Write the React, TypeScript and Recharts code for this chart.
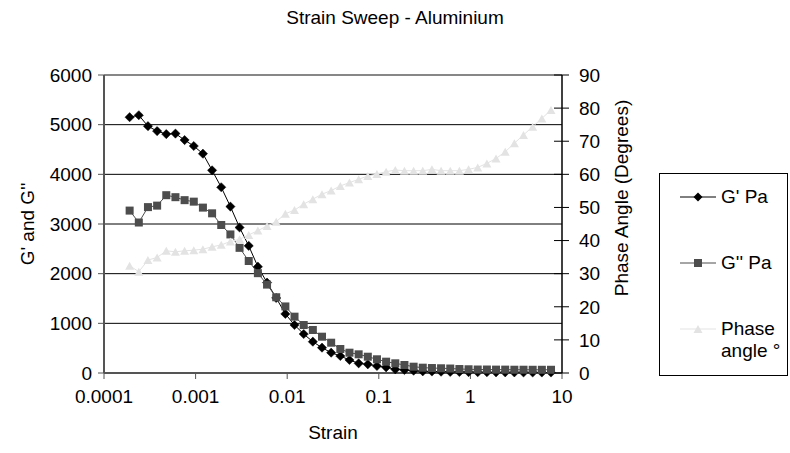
import React from "react";
import {
  ComposedChart,
  Line,
  XAxis,
  YAxis,
  CartesianGrid,
  ReferenceLine,
} from "recharts";

const strain = [
  0.0001905, 0.0002399, 0.000302, 0.0003802, 0.0004786, 0.0006026, 0.0007586, 0.000955,
  0.001202, 0.001514, 0.001905, 0.002399, 0.00302, 0.003802, 0.004786, 0.006026, 0.007586, 0.00955,
  0.01202, 0.01514, 0.01905, 0.02399, 0.0302, 0.03802, 0.04786, 0.06026, 0.07586, 0.0955,
  0.1202, 0.1514, 0.1905, 0.2399, 0.302, 0.3802, 0.4786, 0.6026, 0.7586, 0.955,
  1.202, 1.514, 1.905, 2.399, 3.02, 3.802, 4.786, 6.026, 7.586,
];

const gPrime = [
  5150, 5190, 4970, 4870, 4810, 4820, 4690, 4570,
  4415, 4080, 3740, 3350, 2930, 2560, 2140, 1820, 1510, 1190,
  966, 785, 630, 510, 409, 342, 262, 195, 175, 141,
  115, 74, 60, 46, 34, 30, 26, 22, 20, 18,
  16, 15, 14, 13, 12, 11, 10, 10, 10,
];

const gDoublePrime = [
  3270, 3030, 3340, 3370, 3580, 3540, 3480, 3450,
  3330, 3215, 2980, 2790, 2520, 2255, 2010, 1780, 1525, 1340,
  1134, 966, 866, 731, 610, 483, 409, 376, 328, 276,
  228, 195, 161, 127, 107, 100, 95, 90, 80, 75,
  70, 70, 68, 68, 66, 66, 65, 65, 65,
];

const phaseAngle = [
  32.4, 30.6, 34.1, 34.9, 36.9, 36.6, 36.9, 37.1,
  37.4, 38.1, 38.7, 39.7, 40.4, 41.7, 43.0, 44.4, 45.7, 48.1,
  49.2, 51.0, 52.5, 54.0, 55.1, 56.5, 57.5, 58.5, 59.5, 60.1,
  60.8, 61.3, 61.1, 61.1, 61.1, 61.5, 61.1, 61.1, 61.1, 61.5,
  62.1, 63.3, 64.8, 66.8, 69.4, 71.9, 74.4, 76.9, 79.4,
];

const xTicks = [0.0001, 0.001, 0.01, 0.1, 1, 10];
const xTickLabels = ["0.0001", "0.001", "0.01", "0.1", "1", "10"];
const leftTicks = [0, 1000, 2000, 3000, 4000, 5000, 6000];
const rightTicks = [0, 10, 20, 30, 40, 50, 60, 70, 80, 90];

const title = "Strain Sweep - Aluminium";
const xTitle = "Strain";
const leftTitle = "G' and G''";
const rightTitle = "Phase Angle (Degrees)";
const seriesNames = ["G' Pa", "G'' Pa", "Phase angle °"];

const data = strain.map((s, i) => ({
  strain: s,
  gp: gPrime[i],
  gpp: gDoublePrime[i],
  phase: phaseAngle[i],
}));

const FONT = "'Liberation Sans', Arial, sans-serif";
const FS = 19;

const C_GP = "#000000";
const C_GPP = "#4d4d4d";
const C_PH = "#e3e3e3";

const Diamond = (props: any) => {
  const { cx, cy } = props;
  if (cx == null || cy == null) return null;
  const r = 4.6;
  return (
    <polygon
      points={`${cx},${cy - r} ${cx + r},${cy} ${cx},${cy + r} ${cx - r},${cy}`}
      fill={C_GP}
      stroke={C_GP}
      strokeWidth={0.5}
    />
  );
};

const Square = (props: any) => {
  const { cx, cy } = props;
  if (cx == null || cy == null) return null;
  const s = 8;
  return <rect x={cx - s / 2} y={cy - s / 2} width={s} height={s} fill={C_GPP} />;
};

const Triangle = (props: any) => {
  const { cx, cy } = props;
  if (cx == null || cy == null) return null;
  const w = 9;
  const h = 8;
  return (
    <polygon
      points={`${cx},${cy - h / 2} ${cx + w / 2},${cy + h / 2} ${cx - w / 2},${cy + h / 2}`}
      fill={C_PH}
    />
  );
};

const RightTick = (props: any) => {
  const { x, y, payload } = props;
  return (
    <g>
      <line x1={x - 25} x2={x - 10} y1={y} y2={y} stroke="#000" strokeWidth={1} />
      <text x={x} y={y} dy="0.355em" textAnchor="start" fontFamily={FONT} fontSize={FS} fill="#000">
        {payload.value}
      </text>
    </g>
  );
};

const LegendBox = () => {
  const item = (kind: string, label: React.ReactNode, top: number) => (
    <div style={{ position: "absolute", left: 19, top, display: "flex", alignItems: "flex-start" }}>
      <svg width={38} height={22} style={{ display: "block" }}>
        {kind === "gp" && (
          <>
            <line x1={1} x2={37} y1={11} y2={11} stroke={C_GP} strokeWidth={1} />
            <polygon points="19,6.5 23.5,11 19,15.5 14.5,11" fill={C_GP} />
          </>
        )}
        {kind === "gpp" && (
          <>
            <line x1={1} x2={37} y1={11} y2={11} stroke={C_GPP} strokeWidth={1} />
            <rect x={15} y={7} width={8} height={8} fill={C_GPP} />
          </>
        )}
        {kind === "ph" && (
          <>
            <line x1={1} x2={37} y1={11} y2={11} stroke={C_PH} strokeWidth={1} />
            <polygon points="19,7 23.5,15 14.5,15" fill={C_PH} />
          </>
        )}
      </svg>
      <div style={{ marginLeft: 4, fontFamily: FONT, fontSize: FS, lineHeight: "22px" }}>{label}</div>
    </div>
  );
  return (
    <div
      style={{
        position: "absolute",
        left: 659,
        top: 173,
        width: 129,
        height: 203,
        border: "1px solid #000",
        boxSizing: "border-box",
        background: "#fff",
      }}
    >
      {item("gp", seriesNames[0], 12)}
      {item("gpp", seriesNames[1], 78)}
      {item(
        "ph",
        <>
          Phase
          <br />
          angle °
        </>,
        144
      )}
    </div>
  );
};

export default function App() {
  return (
    <div style={{ position: "absolute", left: 0, top: 0, width: 790, height: 453, background: "#fff" }}>
      <ComposedChart
        width={790}
        height={453}
        data={data}
        margin={{ top: 75, right: 148, bottom: 40, left: 0 }}
      >
        <CartesianGrid yAxisId="left" vertical={false} horizontal stroke="#000" strokeWidth={1} />
        <XAxis
          dataKey="strain"
          type="number"
          scale="log"
          domain={[0.0001, 10]}
          ticks={xTicks}
          allowDataOverflow
          tickFormatter={(v: number) => xTickLabels[xTicks.indexOf(v)] ?? String(v)}
          tick={{ fontFamily: FONT, fontSize: FS, fill: "#000" }}
          tickSize={6}
          tickMargin={11}
          height={40}
          axisLine={{ stroke: "#555", strokeWidth: 2 }}
          tickLine={{ stroke: "#555", strokeWidth: 1 }}
          interval={0}
        />
        <YAxis
          yAxisId="left"
          domain={[0, 6000]}
          ticks={leftTicks}
          width={104}
          tick={{ fontFamily: FONT, fontSize: FS, fill: "#000" }}
          tickSize={6}
          tickMargin={6}
          axisLine={{ stroke: "#555", strokeWidth: 2 }}
          tickLine={{ stroke: "#555", strokeWidth: 1 }}
          interval={0}
        />
        <YAxis
          yAxisId="right"
          orientation="right"
          domain={[0, 90]}
          ticks={rightTicks}
          width={80}
          tick={<RightTick />}
          tickSize={7}
          tickMargin={10}
          axisLine={{ stroke: "#000", strokeWidth: 1.5 }}
          tickLine={false}
          interval={0}
        />
        <ReferenceLine yAxisId="left" y={6000} stroke="#8a8a8a" strokeWidth={1.5} />
        <Line
          yAxisId="left"
          dataKey="gp"
          name={seriesNames[0]}
          stroke={C_GP}
          strokeWidth={1}
          dot={<Diamond />}
          activeDot={false}
          isAnimationActive={false}
          type="linear"
        />
        <Line
          yAxisId="left"
          dataKey="gpp"
          name={seriesNames[1]}
          stroke={C_GPP}
          strokeWidth={1}
          dot={<Square />}
          activeDot={false}
          isAnimationActive={false}
          type="linear"
        />
        <Line
          yAxisId="right"
          dataKey="phase"
          name={seriesNames[2]}
          stroke={C_PH}
          strokeWidth={1}
          dot={<Triangle />}
          activeDot={false}
          isAnimationActive={false}
          type="linear"
        />
      </ComposedChart>
      <LegendBox />
      <div
        style={{
          position: "absolute",
          left: 0,
          width: 790,
          top: 7,
          textAlign: "center",
          fontFamily: FONT,
          fontSize: FS,
          lineHeight: "22px",
          color: "#000",
        }}
      >
        {title}
      </div>
      <div
        style={{
          position: "absolute",
          left: 104,
          width: 458,
          top: 422,
          textAlign: "center",
          fontFamily: FONT,
          fontSize: FS,
          lineHeight: "22px",
          color: "#000",
        }}
      >
        {xTitle}
      </div>
      <div
        style={{
          position: "absolute",
          left: 28,
          top: 224,
          transform: "translate(-50%, -50%) rotate(-90deg)",
          whiteSpace: "nowrap",
          fontFamily: FONT,
          fontSize: FS,
          lineHeight: "22px",
          color: "#000",
        }}
      >
        {leftTitle}
      </div>
      <div
        style={{
          position: "absolute",
          left: 622,
          top: 198,
          transform: "translate(-50%, -50%) rotate(-90deg)",
          whiteSpace: "nowrap",
          fontFamily: FONT,
          fontSize: FS,
          lineHeight: "22px",
          color: "#000",
        }}
      >
        {rightTitle}
      </div>
    </div>
  );
}
